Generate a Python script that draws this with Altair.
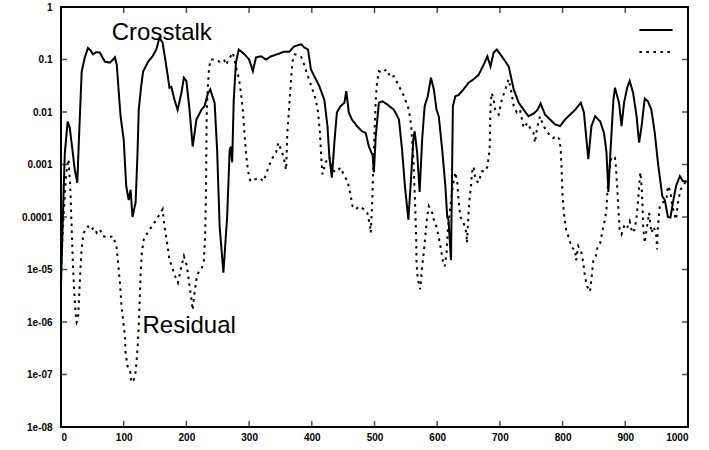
import math
import altair as alt
import pandas as pd

# ---- data ----
series_names = ["Crosstalk", "Residual"]

x_cross = [0, 3, 6, 10.6, 14, 18, 22, 26, 29, 33, 38, 43, 47, 51, 56, 62, 66, 70, 78, 83, 86, 89, 92, 95,
           100, 104, 108, 111, 114, 119, 122, 124, 128, 131, 139, 146, 152, 157, 162, 168, 173, 176, 181,
           186, 192, 196, 200, 205, 210, 216, 224, 229, 234, 238, 245, 249, 253, 259, 265, 269, 271, 273,
           275.5, 279, 283.5, 292.5, 300, 306, 311, 319, 327, 335, 345, 356, 364, 372, 383, 388, 394, 398.5,
           404, 412, 420, 425, 428, 432, 436, 440, 446, 452, 455, 459, 464, 472, 480, 486, 491, 497, 499,
           502, 507, 512.5, 520, 531, 539, 544, 548.5, 554, 557.5, 562, 564, 568, 572, 576, 580, 585, 590,
           594.6, 599, 602.5, 608, 613, 616, 618, 622, 625, 629, 634, 642, 650, 658, 666, 674, 680, 685,
           690, 695, 703, 714, 722, 730, 738, 745.6, 753.6, 760, 765, 772, 780, 788, 796, 804, 812, 820,
           829, 834, 841, 846, 852, 860, 866, 870, 873, 876.5, 881, 883.5, 890, 894, 898, 903, 907, 912.5,
           918, 922, 926, 931, 936, 941.6, 947, 952, 959, 963, 968, 972, 976, 981, 987, 992, 998]
y_cross = [5.0e-6, 1.0e-4, 1.6e-3, 6.6e-3, 5.0e-3, 2.0e-3, 7.9e-4, 4.5e-4, 4.0e-3, 5.9e-2, 0.11, 0.166,
           0.15, 0.126, 0.138, 0.135, 0.11, 0.091, 0.087, 0.1, 0.11, 0.079, 0.025, 8.3e-3,
           3.0e-3, 3.9e-4, 2.1e-4, 3.3e-4, 1.0e-4, 1.9e-4, 1.6e-3, 1.1e-2, 3.2e-2, 5.9e-2, 9.1e-2, 0.115,
           0.155, 0.26, 0.21, 0.074, 0.029, 0.030, 0.017,
           0.011, 0.023, 0.045, 0.039, 0.011, 2.2e-3, 7.2e-3, 0.011, 0.013, 0.022, 0.027, 0.015, 1.9e-3,
           6.6e-5, 8.7e-6, 1.0e-4, 1.9e-3, 2.2e-3, 1.1e-3,
           0.017, 0.087, 0.155, 0.126, 0.1, 0.060, 0.11, 0.115, 0.1, 0.115, 0.126, 0.141, 0.141, 0.178,
           0.195, 0.17, 0.155, 0.065,
           0.048, 0.031, 0.017, 5.4e-3, 1.4e-3, 5.6e-4, 2.6e-3, 9.8e-3, 0.013, 0.015, 0.025, 9.8e-3,
           7.2e-3, 5.4e-3, 4.3e-3, 4.0e-3, 2.2e-3, 1.5e-3, 7.1e-4,
           3.5e-3, 0.015, 0.016, 0.014, 0.011, 7.2e-3, 1.9e-3, 3.9e-4, 8.9e-5, 3.9e-4, 3.0e-3, 4.3e-3,
           1.7e-3, 3.0e-4, 3.0e-3, 0.013, 0.020, 0.045,
           0.027, 0.011, 8.3e-3, 1.9e-3, 3.9e-4, 1.0e-4, 8.9e-5, 1.5e-5, 0.013, 0.020, 0.021, 0.027,
           0.036, 0.042, 0.051, 0.079, 0.115, 0.074,
           0.135, 0.155, 0.115, 0.074, 0.027, 0.015, 0.011, 8.3e-3, 9.3e-3, 0.011, 0.0145, 8.9e-3,
           7.2e-3, 5.8e-3, 5.4e-3, 7.2e-3, 8.9e-3, 0.011,
           0.015, 9.8e-3, 1.26e-3, 5.4e-3, 8.3e-3, 6.6e-3, 4.0e-3, 1.7e-3, 3.0e-4, 1.9e-3, 0.017, 0.029,
           0.015, 5.4e-3, 0.015, 0.029, 0.039, 0.023,
           8.3e-3, 2.6e-3, 5.4e-3, 0.018, 0.016, 0.011, 4.0e-3, 1.1e-3, 2.5e-4, 2.1e-4, 1.0e-4, 9.8e-5,
           1.9e-4, 3.9e-4, 6.0e-4, 4.8e-4, 4.8e-4]

x_resid = [0, 4, 8, 12, 15, 17, 19, 21, 23, 25, 27, 29, 31, 33, 35, 38, 43, 48, 52, 57, 62, 67, 75, 83,
           88.5, 91, 94, 96.5, 99, 102, 103, 106, 110, 112, 116, 119, 122, 124, 125.6, 127, 129, 132,
           138, 145, 152, 159, 162, 165, 170, 173, 177, 181, 186.5, 192, 196, 201, 205, 208, 210, 213,
           216, 219, 224, 228, 230, 231, 231.6, 232, 232.6, 234, 236, 238.5, 245, 253, 260, 263, 269,
           274, 279, 284, 287, 290, 292.5, 295, 298, 302, 308, 316, 323, 329.6, 336, 343, 346.6, 351,
           355, 359, 361, 364, 367, 369, 373, 383, 388, 393, 401, 406.5, 410, 413, 414.5, 415.5, 417,
           422, 428, 433, 438, 446, 452, 457, 461, 465, 470, 476, 483, 488.5, 493, 494, 496.5, 498, 500,
           502, 504, 507, 512, 519, 526, 531, 539, 547, 555, 558.5, 562, 564, 565.5, 566.5, 567, 569,
           573, 576, 578, 580, 584, 586.6, 589, 592, 594.6, 597, 601, 605, 609, 612, 615, 617, 621, 625,
           629, 632, 634, 637, 642, 646.5, 647.5, 650, 652, 654, 655.5, 658, 661, 666, 671, 677, 680,
           683.6, 684.5, 685, 687, 690, 692.6, 698, 703, 708.6, 714, 717.5, 722, 727, 732, 738, 744, 749,
           753.6, 756, 759, 764, 769.5, 775, 780, 785, 790.6, 795, 797, 798.6, 800, 802, 805.5, 811,
           814.5, 820, 821.5, 825, 830, 833, 835.6, 839, 843.7, 846, 849, 853, 856, 860, 862, 865, 867.6,
           870, 871, 874, 878, 883.5, 885, 887, 889, 891, 894, 898, 902, 907, 911, 915, 918, 920.5, 922,
           924, 926, 927.5, 928.5, 931, 934, 938, 941.6, 945.5, 949.6, 950.7, 952, 955, 960, 965.5, 968,
           972, 974, 977.7, 981, 984, 988, 992, 998]
y_resid = [1.0e-5, 1.0e-4, 6.3e-4, 1.26e-3, 3.2e-4, 6.3e-5, 1.26e-5, 4.0e-6, 1.6e-6, 9.8e-7, 1.1e-6,
           3.2e-6, 1.0e-5, 2.5e-5, 4.0e-5, 5.8e-5, 6.6e-5, 5.6e-5, 6.3e-5, 5.0e-5, 5.8e-5, 4.3e-5, 4.1e-5,
           4.3e-5,
           2.8e-5, 1.35e-5, 5.6e-6, 2.0e-6, 1.1e-6, 5.4e-7, 2.6e-7, 1.45e-7, 1.26e-7, 7.1e-8, 7.9e-8,
           1.1e-7, 3.0e-7, 8.3e-7, 2.7e-6, 8.7e-6, 2.1e-5, 3.7e-5,
           5.0e-5, 6.6e-5, 8.9e-5, 1.2e-4, 1.4e-4, 6.6e-5, 2.8e-5, 1.5e-5, 1.15e-5, 7.9e-6, 5.6e-6,
           1.15e-5, 1.8e-5, 1.15e-5, 4.8e-6, 2.7e-6, 1.7e-6, 3.6e-6,
           6.5e-6, 8.7e-6, 1.0e-5, 1.5e-5, 5.0e-5, 2.1e-4, 9.1e-4, 4.0e-3, 0.011, 0.027, 0.065, 0.1,
           0.1, 0.091, 0.1, 0.079, 0.107,
           0.135, 0.074, 0.042, 0.023, 0.011, 4.0e-3, 1.7e-3, 7.9e-4, 4.8e-4, 5.1e-4, 5.6e-4, 4.8e-4,
           7.9e-4, 1.26e-3, 1.7e-3, 2.6e-3, 1.9e-3,
           1.4e-3, 7.9e-4, 4.0e-3, 0.013, 0.042, 0.091, 0.126, 0.112, 0.079, 0.051, 0.027, 0.017,
           9.8e-3, 4.0e-3, 1.9e-3, 1.1e-3, 6.5e-4,
           1.1e-3, 1.4e-3, 7.9e-4, 7.1e-4, 8.7e-4, 6.0e-4, 4.8e-4, 3.0e-4, 1.6e-4, 1.4e-4, 1.6e-4,
           1.4e-4, 1.2e-4, 6.6e-5, 5.0e-5, 2.1e-4, 9.1e-4, 4.0e-3,
           0.017, 0.036, 0.060, 0.056, 0.065, 0.045, 0.048, 0.031, 0.020, 0.011, 5.4e-3, 1.26e-3,
           3.0e-4, 1.0e-4, 3.7e-5, 1.35e-5, 6.5e-6,
           4.2e-6, 1.15e-5, 1.8e-5, 3.2e-5, 1.0e-4, 1.6e-4, 1.4e-4, 1.2e-4, 8.9e-5, 7.8e-5, 5.0e-5,
           2.8e-5, 1.5e-5, 1.15e-5, 2.1e-5, 5.8e-5, 1.6e-4, 3.9e-4,
           7.1e-4, 4.5e-4, 2.1e-4, 1.0e-4, 7.8e-5, 5.0e-5, 3.2e-5, 1.2e-4, 2.5e-4, 3.9e-4, 7.1e-4,
           9.1e-4, 5.1e-4, 4.5e-4, 7.4e-4, 7.4e-4, 9.1e-4,
           1.9e-3, 5.4e-3, 0.013, 0.023, 0.017, 0.011, 8.9e-3, 0.017, 0.027, 0.042, 0.027, 0.013,
           9.8e-3, 0.011, 5.0e-3, 6.2e-3, 4.7e-3,
           4.0e-3, 2.6e-3, 4.7e-3, 8.3e-3, 5.4e-3, 4.3e-3, 3.5e-3, 3.2e-3, 3.5e-3, 3.0e-3, 1.9e-3,
           7.1e-4, 2.5e-4, 1.2e-4, 5.8e-5, 3.7e-5,
           2.6e-5, 2.4e-5, 1.5e-5, 2.8e-5, 2.1e-5, 1.35e-5, 7.4e-6, 4.8e-6, 3.8e-6, 6.5e-6, 1.5e-5,
           1.8e-5, 2.8e-5, 3.2e-5, 4.3e-5, 6.6e-5, 8.9e-5,
           1.4e-4, 2.5e-4, 7.1e-4, 1.4e-3, 1.35e-3, 9.1e-4, 3.9e-4, 1.4e-4, 5.8e-5, 4.7e-5, 6.6e-5,
           5.8e-5, 8.3e-5, 5.0e-5, 5.8e-5, 1.0e-4, 2.1e-4, 3.9e-4,
           7.1e-4, 3.9e-4, 1.6e-4, 6.6e-5, 3.2e-5, 5.8e-5, 1.2e-4, 5.0e-5, 6.6e-5, 4.3e-5, 2.4e-5,
           6.6e-5, 1.6e-4, 1.9e-4, 2.1e-4, 3.9e-4,
           3.1e-4, 1.9e-4, 1.2e-4, 8.9e-5, 1.9e-4, 3.3e-4, 3.9e-4, 5.0e-4]

x_ticks = [0, 100, 200, 300, 400, 500, 600, 700, 800, 900, 1000]
y_ticks = [1, 0.1, 0.01, 0.001, 0.0001, 1e-05, 1e-06, 1e-07, 1e-08]
y_tick_labels = ["1", "0.1", "0.01", "0.001", "0.0001", "1e-05", "1e-06", "1e-07", "1e-08"]

note_text = ["Crosstalk", "Residual"]
note_x = [81, 130]
note_y = [0.24, 6.3e-7]

# ---- chart ----
W, H = 627, 420
FONT = "Liberation Sans"

df = pd.concat([
    pd.DataFrame({"x": x_cross, "y": y_cross, "series": series_names[0]}),
    pd.DataFrame({"x": x_resid, "y": y_resid, "series": series_names[1]}),
])

xs = alt.Scale(domain=[0, 1000], nice=False, zero=False)
ys = alt.Scale(type="log", domain=[1e-8, 1], nice=False)

label_expr = " : ".join(
    f"round(log(datum.value)/LN10) == {round(math.log10(v))} ? '{lab}'"
    for v, lab in zip(y_ticks, y_tick_labels)
) + " : ''"

ax_x = alt.Axis(values=x_ticks, format="d", title=None, domain=False, ticks=False, grid=False,
                labelFont=FONT, labelFontSize=10, labelFontWeight="bold", labelColor="black",
                labelPadding=5)
ax_y = alt.Axis(values=y_ticks, labelExpr=label_expr, title=None, domain=False, ticks=False,
                grid=False, labelFont=FONT, labelFontSize=10, labelFontWeight="bold",
                labelColor="black", labelPadding=9)

X = lambda: alt.X("x:Q", scale=xs, axis=ax_x)
Y = lambda: alt.Y("y:Q", scale=ys, axis=ax_y)

lines = alt.Chart(df).mark_line(color="black", strokeWidth=2, clip=True).encode(
    x=X(), y=Y(),
    strokeDash=alt.StrokeDash("series:N", scale=alt.Scale(domain=series_names,
                                                          range=[[1, 0], [2.5, 4.5]]),
                              legend=alt.Legend(orient="none", legendX=577, legendY=5, title=None,
                                                labelExpr="''", symbolType="stroke",
                                                symbolSize=1100, symbolStrokeWidth=2,
                                                symbolStrokeColor="black", rowPadding=0,
                                                labelFontSize=1, labelLimit=1)),
)

tick_style = dict(color="black", size=6, thickness=1.5)
xt = pd.DataFrame({"x": x_ticks})
yt = pd.DataFrame({"y": y_ticks})
bottom = alt.Chart(xt).mark_tick(orient="vertical", **tick_style).encode(x=X(), y=alt.value(H - 3))
top = alt.Chart(xt).mark_tick(orient="vertical", **tick_style).encode(x=X(), y=alt.value(3))
left = alt.Chart(yt).mark_tick(orient="horizontal", **tick_style).encode(y=Y(), x=alt.value(3))
right = alt.Chart(yt).mark_tick(orient="horizontal", **tick_style).encode(y=Y(), x=alt.value(W - 3))

notes = alt.Chart(pd.DataFrame({"t": note_text, "x": note_x, "y": note_y})).mark_text(
    align="left", baseline="alphabetic", fontSize=24, font=FONT, color="black").encode(
    x=X(), y=Y(), text="t:N")

chart = alt.layer(lines, bottom, top, left, right, notes).properties(
    width=W, height=H,
    padding={"left": 61, "top": 7, "right": 21, "bottom": 23},
    autosize="none",
    background="white",
).configure_view(stroke="black", strokeWidth=2)

chart.save("out.html", embed_options={"renderer": "svg", "actions": False})
